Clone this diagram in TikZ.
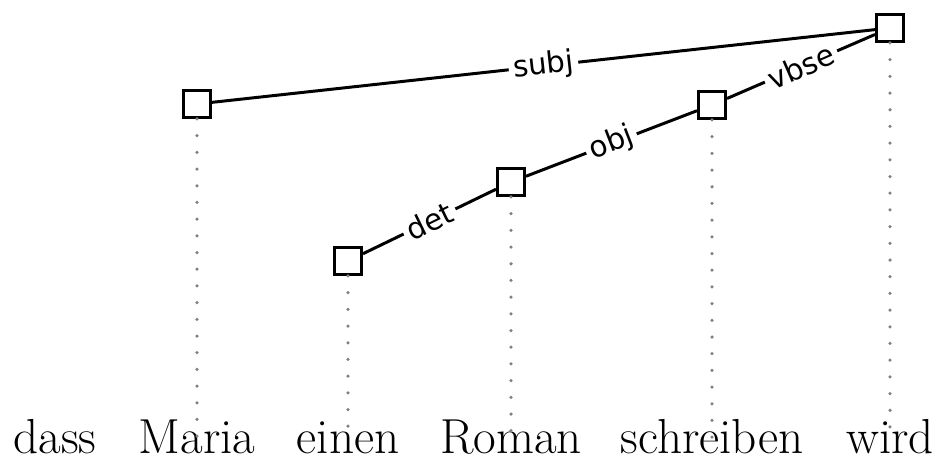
\documentclass[tikz,border=0pt]{standalone}
\usepackage{fontspec}
\newfontfamily\deplabelfont{DejaVu Sans}
\tikzset{
  word/.style={anchor=base,inner sep=0pt,text height=0.68em,text depth=0pt,font=\fontsize{28}{34}\selectfont},
  headbox/.style={draw,fill=white,line width=1.7pt,inner sep=0pt,minimum size=0.54cm},
  deplabel/.style={fill=white,inner sep=2.5pt,sloped,font=\deplabelfont\fontsize{16.8}{18}\selectfont},
  deparc/.style={line width=1.7pt},
  proj/.style={black!50,line width=2pt,line cap=round,dash pattern=on 0pt off 9.5pt}
}
\begin{document}
\begin{tikzpicture}
\useasboundingbox (0,0) rectangle (18.7,9.16);
% words
\node[word](w1) at (1.10,0.08){dass};
\node[word](w2) at (3.94,0.08){Maria};
\node[word](w3) at (6.96,0.08){einen};
\node[word](w4) at (10.22,0.08){Roman};
\node[word](w5) at (14.24,0.08){schreiben};
\node[word](w6) at (17.80,0.08){wird};
% tree nodes
\node[headbox](n2) at (3.94,7.08){};
\node[headbox](n3) at (6.96,3.94){};
\node[headbox](n4) at (10.22,5.52){};
\node[headbox](n5) at (14.24,7.06){};
\node[headbox](n6) at (17.80,8.60){};
% projection lines
\draw[proj](n2)--(w2.north);
\draw[proj](n3)--(w3.north);
\draw[proj](n4)--(w4.north);
\draw[proj](n5)--(w5.north);
\draw[proj](n6)--(w6.north);
% dependencies
\draw[deparc](n2)--(n6)node[deplabel,midway]{subj};
\draw[deparc](n5)--(n6)node[deplabel,midway]{vbse};
\draw[deparc](n4)--(n5)node[deplabel,midway]{obj};
\draw[deparc](n3)--(n4)node[deplabel,midway]{det};
\end{tikzpicture}
\end{document}
